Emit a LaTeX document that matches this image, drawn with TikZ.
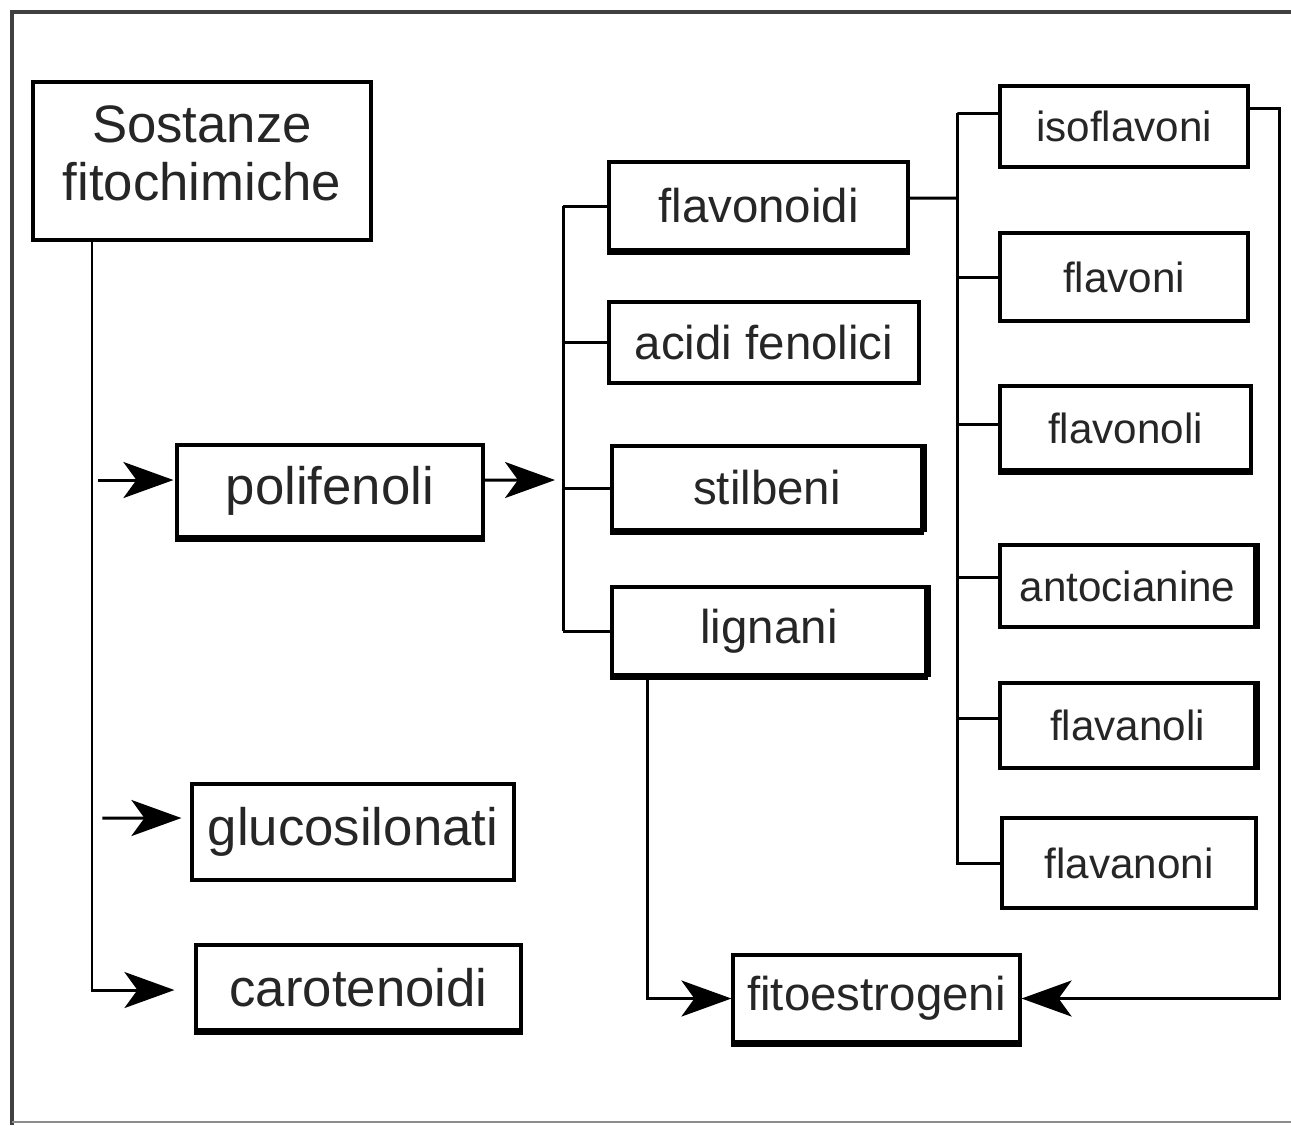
\documentclass[tikz,border=0pt]{standalone}
\usepackage{fontspec}
\setmainfont{Liberation Sans}
\usetikzlibrary{positioning, arrows.meta}

\tikzset{
  box/.style={draw, line width=0.9pt, inner sep=0pt, align=center, text=black!85},
  bigbox/.style={box, font=\fontsize{15}{16.5}\selectfont},
  midbox/.style={box, font=\fontsize{13.5}{15}\selectfont},
  smallbox/.style={box, font=\fontsize{12}{13}\selectfont},
  link/.style={line width=0.85pt},
  arr/.style={link, -{Stealth[length=0.5cm, width=0.36cm, inset=0.13cm]}},
}

\begin{document}
\begin{tikzpicture}
    \useasboundingbox (0,0) rectangle (12.91,-11.25);

    % Draw frame
    \draw[line width=1.1pt, black!75] (0.12,-11.25) -- (0.12,-0.12) -- (12.91,-0.12);
    \draw[line width=0.8pt, black!45] (0.12,-11.22) -- (12.91,-11.22);

    % Left column
    \node[bigbox, minimum width=3.38cm, minimum height=1.58cm] (sostanze) at (2.02,-1.61) {Sostanze\\fitochimiche\\[-0.42cm]};
    \node[bigbox, minimum width=3.06cm, minimum height=0.92cm] (polifenoli) at (3.30,-4.91) {polifenoli};
    \node[bigbox, minimum width=3.22cm, minimum height=0.96cm] (glucosilonati) at (3.53,-8.32) {glucosilonati};
    \node[bigbox, minimum width=3.25cm, minimum height=0.85cm] (carotenoidi) at (3.585,-9.875) {carotenoidi};

    % Middle column
    \node[midbox, minimum width=2.99cm, minimum height=0.88cm] (flavonoidi) at (7.585,-2.06) {flavonoidi};
    \node[midbox, minimum width=3.10cm, minimum height=0.81cm] (acidi) at (7.64,-3.425) {acidi fenolici};
    \node[midbox, minimum width=3.10cm, minimum height=0.84cm] (stilbeni) at (7.67,-4.88) {stilbeni};
    \node[midbox, minimum width=3.14cm, minimum height=0.88cm] (lignani) at (7.69,-6.31) {lignani};
    \node[midbox, minimum width=2.87cm, minimum height=0.87cm] (fitoestrogeni) at (8.765,-9.985) {fitoestrogeni};

    % Right column
    \node[smallbox, minimum width=2.48cm, minimum height=0.81cm] (isoflavoni) at (11.24,-1.265) {isoflavoni};
    \node[smallbox, minimum width=2.48cm, minimum height=0.88cm] (flavoni) at (11.24,-2.77) {flavoni};
    \node[smallbox, minimum width=2.51cm, minimum height=0.84cm] (flavonoli) at (11.255,-4.28) {flavonoli};
    \node[smallbox, minimum width=2.55cm, minimum height=0.82cm] (antocianine) at (11.275,-5.86) {antocianine};
    \node[smallbox, minimum width=2.55cm, minimum height=0.85cm] (flavanoli) at (11.275,-7.255) {flavanoli};
    \node[smallbox, minimum width=2.54cm, minimum height=0.90cm] (flavanoni) at (11.29,-8.63) {flavanoni};

    % Heavier edges
    \foreach \n in {polifenoli, carotenoidi, flavonoidi, stilbeni, lignani, fitoestrogeni, flavonoli} {
      \draw[line width=1.8pt] (\n.south west) -- (\n.south east);
    }
    \foreach \n in {stilbeni, lignani, antocianine, flavanoli} {
      \draw[line width=1.8pt] (\n.south east) -- (\n.north east);
    }

    % Bus lines
    \coordinate (bus1) at (5.63,-2.06);
    \coordinate (bus1in) at (5.63,-4.80);
    \coordinate (bus2) at (9.57,-1.13);
    \coordinate (bus2in) at (9.57,-1.98);
    \draw[link] (bus1) -- (lignani.west -| bus1);
    \draw[link] (bus2) -- (flavanoni.west -| bus2);

    % Left trunk and arrows
    \draw[arr, shorten >=0.2cm] ([xshift=-1.10cm]sostanze.south) |- ([yshift=-0.025cm]carotenoidi.west);
    \draw[arr, shorten >=0.02cm] ([shift={(-0.77,0.11)}]polifenoli.west) -- ([yshift=0.11cm]polifenoli.west);
    \draw[arr, shorten >=0.09cm] ([shift={(-0.88,0.14)}]glucosilonati.west) -- ([yshift=0.14cm]glucosilonati.west);

    % Middle branches
    \draw[arr, shorten >=0.08cm] ([yshift=0.11cm]polifenoli.east) -- (bus1in);
    \foreach \n in {flavonoidi, acidi, stilbeni, lignani} {
      \draw[link] (\n.west) -- (\n.west -| bus1);
    }

    % Right branches
    \draw[link] ([yshift=0.08cm]flavonoidi.east) -- (bus2in);
    \foreach \n/\dy in {isoflavoni/0.13, flavoni/0, flavonoli/0.04, antocianine/0.09, flavanoli/0.07, flavanoni/0} {
      \draw[link] ([yshift=\dy cm]\n.west) -| (bus2);
    }

    % Into fitoestrogeni
    \draw[arr] ([xshift=-1.22cm]lignani.south) |- (fitoestrogeni.west);
    \draw[arr] ([yshift=0.185cm]isoflavoni.east) -- ++(0.30,0) |- (fitoestrogeni.east);
\end{tikzpicture}
\end{document}
